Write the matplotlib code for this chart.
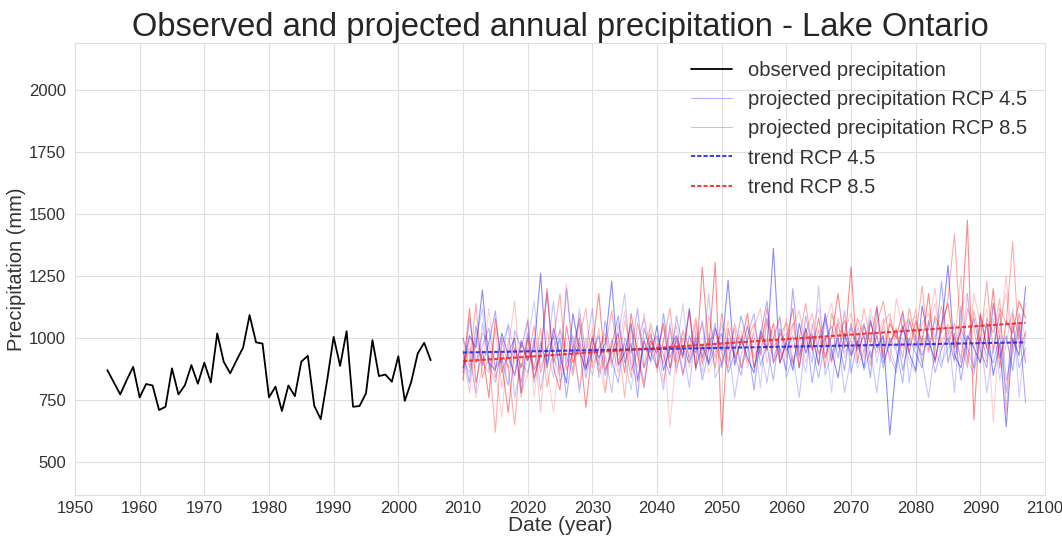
import numpy as np
import matplotlib
matplotlib.use('Agg')
import matplotlib.pyplot as plt
from matplotlib.lines import Line2D
import seaborn as sns

# observed annual precipitation (mm), 1955-2005
obs_years = list(range(1955, 2006))
obs_precip = [871, 822, 773, 831, 884, 761, 815, 809, 710, 723,
              878, 773, 810, 891, 816, 901, 821, 1019, 905, 858,
              911, 962, 1093, 983, 978, 761, 804, 706, 809, 766,
              905, 929, 727, 673, 831, 1005, 888, 1028, 723, 726,
              777, 992, 847, 853, 824, 927, 747, 824, 938, 981,
              911]

# projected annual precipitation (mm), 2010-2097
proj_years = list(range(2010, 2098))

rcp45_a = [880, 1010, 960, 1195, 900, 870, 1020, 930, 850, 990,
           910, 960, 1262, 880, 1040, 930, 820, 1100, 950, 870,
           1000, 920, 980, 1230, 890, 940, 1060, 830, 990, 910,
           1050, 870, 960, 1010, 930, 1120, 880, 970, 900, 1040,
           950, 1234, 890, 1000, 920, 860, 1030, 960, 1363, 900,
           980, 870, 1060, 940, 1010, 890, 1100, 950, 840, 1020,
           930, 990, 880, 1070, 960, 1010, 609, 900, 1050, 940,
           870, 1130, 990, 910, 1040, 1294, 930, 880, 1010, 960,
           900, 1060, 850, 980, 642, 1000, 930, 1207]
rcp45_b = [950, 820, 1050, 890, 980, 1110, 860, 940, 1000, 780,
           1020, 870, 930, 1180, 900, 1000, 760, 960, 1080, 880,
           940, 1010, 850, 970, 1090, 900, 980, 760, 1040, 950,
           880, 1100, 920, 990, 850, 1010, 940, 1070, 890, 970,
           1020, 860, 940, 1090, 980, 790, 1010, 1150, 900, 960,
           870, 1200, 930, 1040, 820, 990, 1080, 910, 1000, 870,
           1060, 950, 1010, 840, 1120, 900, 980, 1030, 870, 1000,
           940, 880, 1070, 960, 1230, 900, 1020, 830, 990, 1080,
           950, 880, 1140, 920, 1010, 870, 1060, 738]
rcp45_c = [1000, 930, 780, 1060, 900, 820, 970, 1050, 760, 900,
           860, 1000, 790, 940, 1150, 820, 900, 1010, 780, 950,
           1120, 840, 930, 780, 1000, 1180, 870, 950, 820, 1010,
           930, 790, 1060, 880, 970, 800, 1030, 920, 1180, 840,
           900, 990, 760, 930, 1050, 880, 960, 820, 1000, 1090,
           840, 930, 760, 1010, 900, 1210, 850, 940, 1000, 780,
           920, 1040, 870, 950, 780, 1000, 930, 860, 1100, 820,
           1010, 900, 760, 960, 880, 1040, 780, 1130, 920, 850,
           1010, 780, 960, 1100, 830, 940, 1050, 900]
rcp45_d = [830, 1080, 900, 970, 1040, 880, 920, 810, 1030, 960,
           1070, 820, 980, 900, 1010, 870, 1200, 930, 1000, 840,
           960, 890, 1070, 910, 820, 1000, 940, 1120, 880, 970,
           1010, 930, 850, 1090, 960, 900, 1000, 830, 950, 1060,
           880, 1000, 930, 850, 1010, 1100, 890, 970, 830, 1040,
           950, 1010, 880, 1090, 960, 840, 990, 1050, 920, 1110,
           860, 980, 1060, 920, 1010, 880, 1000, 950, 820, 1070,
           990, 930, 1020, 860, 960, 1000, 910, 1040, 960, 880,
           1090, 960, 900, 1010, 780, 1060, 880, 960]
rcp45_e = [920, 860, 990, 1120, 870, 950, 900, 1060, 940, 820,
           980, 1150, 880, 960, 840, 1040, 960, 870, 1120, 930,
           850, 960, 1000, 880, 1060, 920, 790, 990, 1080, 900,
           960, 1040, 880, 940, 1140, 900, 990, 860, 1020, 920,
           1060, 910, 1000, 880, 950, 1020, 800, 1080, 920, 990,
           1020, 890, 970, 860, 1060, 930, 1010, 780, 1060, 940,
           990, 880, 950, 1090, 900, 1040, 960, 880, 1000, 910,
           860, 1010, 940, 1080, 900, 960, 1000, 920, 1180, 870,
           1000, 930, 1080, 830, 980, 1120, 760, 1030]

rcp85_a = [860, 1120, 820, 950, 760, 1080, 900, 700, 960, 880,
           1000, 840, 930, 1200, 880, 790, 1050, 900, 980, 720,
           960, 1180, 870, 940, 1020, 860, 1100, 930, 800, 990,
           940, 1060, 880, 1000, 920, 1110, 870, 1286, 950, 1306,
           609, 1040, 920, 980, 1100, 880, 1010, 950, 1060, 900,
           990, 1120, 880, 1040, 950, 1080, 920, 1010, 1180, 960,
           1287, 900, 1050, 980, 1130, 920, 1060, 1000, 1110, 940,
           1070, 980, 1180, 900, 1060, 1140, 960, 1030, 1476, 669,
           1100, 960, 1200, 880, 1070, 1020, 1150, 1080]
rcp85_b = [1000, 880, 1140, 840, 930, 620, 1000, 880, 650, 980,
           910, 1050, 860, 960, 1000, 1180, 870, 940, 1060, 880,
           1010, 860, 960, 1110, 900, 980, 840, 1060, 950, 1020,
           880, 990, 1120, 900, 1030, 960, 1080, 920, 1000, 880,
           1100, 950, 1040, 880, 990, 1060, 930, 1120, 960, 1010,
           1060, 900, 1000, 1140, 960, 1030, 880, 1100, 1000, 1070,
           940, 1080, 1010, 890, 1060, 1150, 980, 1040, 920, 1120,
           1000, 1210, 950, 1090, 1020, 1160, 1420, 1000, 880, 1110,
           980, 1230, 940, 1120, 1060, 1388, 960, 1020]
rcp85_c = [940, 780, 1000, 900, 860, 1040, 800, 960, 1150, 780,
           850, 990, 700, 1030, 920, 850, 1220, 960, 800, 1000,
           900, 1040, 780, 990, 860, 1070, 960, 880, 1100, 940,
           1000, 820, 970, 1050, 860, 940, 1010, 890, 1090, 970,
           900, 1070, 980, 1010, 900, 1040, 1120, 900, 1000, 1080,
           920, 1050, 1110, 960, 1020, 900, 1060, 1140, 960, 1030,
           1100, 980, 920, 1060, 1000, 1080, 900, 1160, 1040, 980,
           1120, 900, 1060, 1200, 950, 1050, 980, 1250, 900, 1180,
           1060, 900, 1140, 1000, 1250, 960, 1100, 900]
rcp85_d = [880, 960, 900, 1020, 980, 840, 940, 880, 1000, 760,
           960, 880, 1040, 800, 960, 1030, 920, 850, 1000, 1120,
           880, 960, 1020, 900, 990, 760, 1040, 960, 880, 1060,
           960, 900, 1040, 860, 1000, 920, 1060, 900, 980, 1020,
           940, 880, 1060, 960, 1050, 920, 990, 1080, 900, 1020,
           980, 1060, 920, 1020, 1100, 940, 1000, 900, 1080, 1000,
           1040, 960, 1120, 1000, 940, 1060, 1100, 960, 1040, 1080,
           960, 1060, 1100, 1000, 1130, 980, 1060, 900, 1120, 1040,
           900, 1080, 1020, 1160, 700, 1100, 1000, 1140]
rcp85_e = [830, 1000, 760, 880, 1120, 870, 680, 1000, 900, 820,
           1080, 760, 990, 880, 700, 940, 1000, 860, 1100, 940,
           1040, 900, 780, 1000, 930, 1110, 900, 820, 990, 1040,
           860, 1000, 640, 940, 1020, 880, 990, 1050, 860, 940,
           1010, 900, 960, 1030, 880, 1000, 940, 1060, 1010, 920,
           1080, 960, 1010, 900, 1040, 1120, 960, 1000, 1060, 920,
           1000, 1060, 940, 1120, 1000, 940, 1080, 1000, 960, 1060,
           1090, 960, 1040, 1140, 980, 1060, 900, 1120, 1180, 960,
           1040, 1120, 660, 1060, 1180, 940, 1100, 1000]

rcp45_runs = [rcp45_a, rcp45_b, rcp45_c, rcp45_d, rcp45_e]
rcp85_runs = [rcp85_a, rcp85_b, rcp85_c, rcp85_d, rcp85_e]

# linear trends (start / end)
trend_years = [2010, 2097]
trend45 = [942, 983]
trend85 = [907, 1062]

sns.set_style('whitegrid', {'grid.color': '#e0e0e0', 'axes.edgecolor': '#e0e0e0'})
plt.rcParams['font.family'] = ['Liberation Sans', 'DejaVu Sans']

fig = plt.figure(figsize=(10.62, 5.4), dpi=100)
ax = fig.add_axes([0.0706, 0.0833, 0.9134, 0.8367])

ax.plot(obs_years, obs_precip, color='black', lw=1.3)

alphas = [0.45, 0.32, 0.22, 0.28, 0.18]
for i, run in enumerate(rcp45_runs):
    ax.plot(proj_years, run, color='blue', lw=0.8, alpha=alphas[i])
for i, run in enumerate(rcp85_runs):
    ax.plot(proj_years, run, color='red', lw=0.8, alpha=alphas[i])

ax.plot(trend_years, trend45, color='#2020e0', lw=1.5, ls=(0, (2, 1)), alpha=0.85)
ax.plot(trend_years, trend85, color='#f02020', lw=1.5, ls=(0, (2, 1)), alpha=0.85)

ax.set_xlim(1950, 2100)
ax.set_ylim(367, 2190)
ax.set_xticks(range(1950, 2101, 10))
ax.set_yticks([500, 750, 1000, 1250, 1500, 1750, 2000])
ax.tick_params(labelsize=12, colors='.2', pad=3)
ax.tick_params(axis='x', pad=1)
ax.set_xlabel('Date (year)', fontsize=15, color='.2', labelpad=0)
ax.set_ylabel('Precipitation (mm)', fontsize=14.5, color='.2', labelpad=2)
ax.set_title('Observed and projected annual precipitation - Lake Ontario', fontsize=23.5, color='.15', pad=5)

handles = [Line2D([], [], color='black', lw=1.3),
           Line2D([], [], color='blue', lw=0.8, alpha=0.3),
           Line2D([], [], color='red', lw=0.8, alpha=0.3),
           Line2D([], [], color='#2020e0', lw=1.5, ls=(0, (2, 1)), alpha=0.85),
           Line2D([], [], color='#f02020', lw=1.5, ls=(0, (2, 1)), alpha=0.85)]
labels = ['observed precipitation', 'projected precipitation RCP 4.5',
          'projected precipitation RCP 8.5', 'trend RCP 4.5', 'trend RCP 8.5']
leg = ax.legend(handles, labels, loc='upper right', fontsize=14.5, frameon=False,
                borderaxespad=0.5)
for t in leg.get_texts():
    t.set_color('.2')

plt.savefig('out.png', dpi=100)
